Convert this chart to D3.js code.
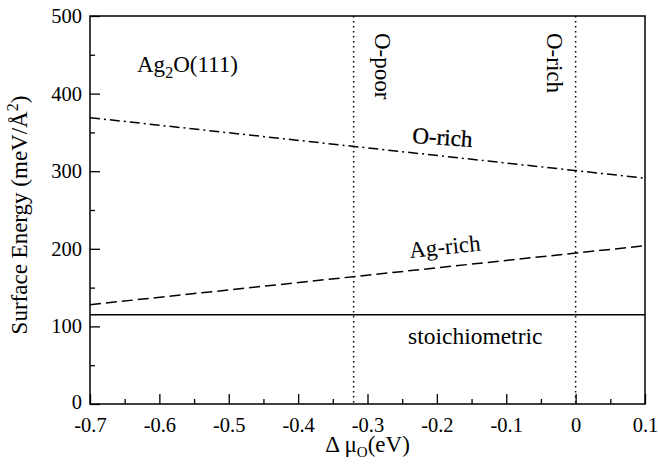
<!DOCTYPE html>
<html lang="en">
<head>
    <meta charset="UTF-8">
    <title>Ag2O(111) surface energy</title>
    <script src="https://d3js.org/d3.v7.min.js"></script>
    <style>
        body { margin: 0; background: #fff; }
        svg text { font-family: "Liberation Serif", "Times New Roman", serif; fill: #000; }
    </style>
</head>
<body>
    <script>
        // chemical potential range and line ends (meV/A^2)
        const muEnds = [-0.7, 0.1];
        const stoich = [115, 115];
        const agRich = [128, 204];
        const oRich = [369, 291];
        const limits = [-0.32, 0];   // O-poor, O-rich
        const xTicks = [-0.7, -0.6, -0.5, -0.4, -0.3, -0.2, -0.1, 0, 0.1];
        const yTicks = [0, 100, 200, 300, 400, 500];

        const w = 658, h = 466;
        const pl = 90, pr = 645, pt = 16, pb = 404;

        const svg = d3.select("body").append("svg")
            .attr("width", w)
            .attr("height", h)
            .attr("font-family", "Liberation Serif");

        const x = d3.scaleLinear().domain([-0.7, 0.1]).range([pl, pr]);
        const y = d3.scaleLinear().domain([0, 500]).range([pb, pt]);

        // minor ticks
        svg.append("g")
            .attr("transform", "translate(0," + pb + ")")
            .call(d3.axisBottom(x).tickValues(d3.range(-0.65, 0.1, 0.1)).tickSize(-5).tickFormat(""))
            .call(g => g.select(".domain").remove());
        svg.append("g")
            .attr("transform", "translate(" + pl + ",0)")
            .call(d3.axisLeft(y).tickValues(d3.range(50, 500, 100)).tickSize(-5).tickFormat(""))
            .call(g => g.select(".domain").remove());

        // major ticks
        const xAxis = svg.append("g")
            .attr("transform", "translate(0," + pb + ")")
            .call(d3.axisBottom(x).tickValues(xTicks).tickSize(-10).tickPadding(13));
        const yAxis = svg.append("g")
            .attr("transform", "translate(" + pl + ",0)")
            .call(d3.axisLeft(y).tickValues(yTicks).tickSize(-10).tickPadding(8));

        [xAxis, yAxis].forEach(g => {
            g.attr("font-family", "Liberation Serif");
            g.select(".domain").remove();
            g.selectAll("text").style("font-size", "20.5px");
        });
        xAxis.selectAll("text").text(d => d === 0 ? "0" : String(d));
        yAxis.selectAll("text").filter(d => d === 0).attr("dy", "0.2em");
        svg.selectAll(".tick line").attr("stroke", "#000").attr("stroke-width", 1.3);

        // frame
        svg.append("rect")
            .attr("x", pl).attr("y", pt)
            .attr("width", pr - pl).attr("height", pb - pt)
            .attr("fill", "none").attr("stroke", "#000").attr("stroke-width", 1.5);

        const line = d3.line().x(d => x(d[0])).y(d => y(d[1]));

        // vertical limits
        svg.selectAll(".limit")
            .data(limits)
            .enter()
            .append("line")
            .attr("x1", d => x(d)).attr("x2", d => x(d))
            .attr("y1", y(500)).attr("y2", y(0))
            .attr("stroke", "#000").attr("stroke-width", 1.5)
            .attr("stroke-dasharray", "1.5,3.5");

        const series = [
            { v: stoich, dash: null },
            { v: agRich, dash: "11,5" },
            { v: oRich, dash: "10,4,2,4" }
        ];
        svg.selectAll(".series")
            .data(series)
            .enter()
            .append("path")
            .attr("d", s => line(muEnds.map((m, i) => [m, s.v[i]])))
            .attr("fill", "none")
            .attr("stroke", "#000")
            .attr("stroke-width", 1.5)
            .attr("stroke-dasharray", s => s.dash);

        // labels
        const t1 = svg.append("text").attr("x", 137).attr("y", 72).style("font-size", "23px");
        t1.append("tspan").text("Ag");
        t1.append("tspan").text("2").style("font-size", "16px").attr("dy", 6);
        t1.append("tspan").text("O(111)").attr("dy", -6);

        svg.append("text").attr("transform", "translate(375,33) rotate(90)")
            .style("font-size", "23px").text("O-poor");
        svg.append("text").attr("transform", "translate(547,33) rotate(90)")
            .style("font-size", "23px").text("O-rich");

        svg.append("text").attr("transform", "translate(412,143) rotate(3.7)")
            .style("font-size", "23px").attr("stroke", "#000").attr("stroke-width", 0.3)
            .text("O-rich");
        svg.append("text").attr("transform", "translate(410,258) rotate(-6)")
            .style("font-size", "23px").text("Ag-rich");
        svg.append("text").attr("x", 408).attr("y", 344)
            .style("font-size", "23.5px").text("stoichiometric");

        // axis titles
        const yt = svg.append("text")
            .attr("transform", "translate(27," + ((pt + pb) / 2 + 5) + ") rotate(-90)")
            .attr("text-anchor", "middle")
            .style("font-size", "23px");
        yt.append("tspan").text("Surface Energy (meV/Å");
        yt.append("tspan").text("2").style("font-size", "16px").attr("dy", -9);
        yt.append("tspan").text(")").attr("dy", 9);

        const xt = svg.append("text")
            .attr("x", (pl + pr) / 2).attr("y", 452)
            .attr("text-anchor", "middle")
            .style("font-size", "23px");
        xt.append("tspan").text("Δ μ");
        xt.append("tspan").text("O").style("font-size", "15px").attr("dy", 5);
        xt.append("tspan").text("(eV)").attr("dy", -5);
    </script>
</body>
</html>
